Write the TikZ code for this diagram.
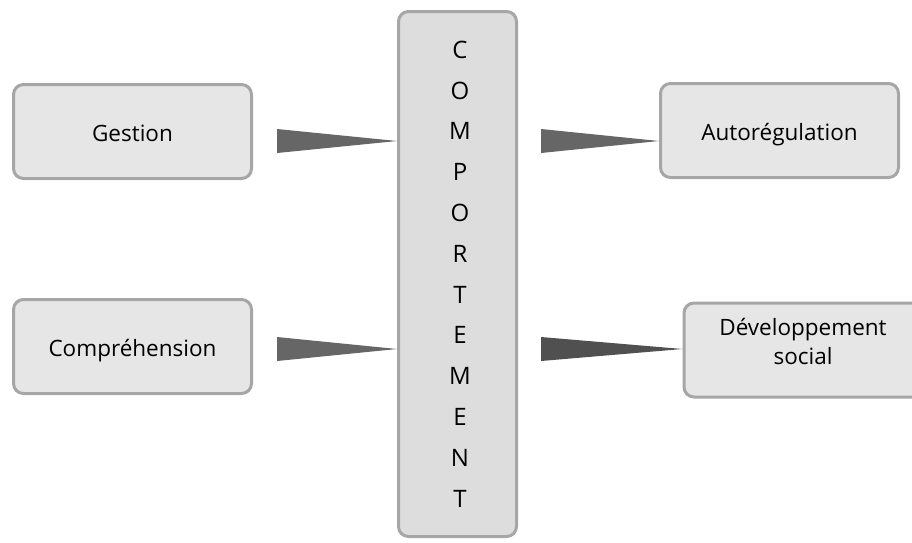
\documentclass[tikz,border=0pt]{standalone}
\usepackage{fontspec}
\setmainfont{Open Sans}
\usetikzlibrary{calc}
\definecolor{boxfill}{HTML}{E6E6E6}
\definecolor{midfill}{HTML}{DDDDDD}
\definecolor{boxline}{HTML}{A6A6A6}
\definecolor{wedgeA}{HTML}{666666}
\definecolor{wedgeB}{HTML}{505050}
\tikzset{
  sidebox/.style={draw=boxline, fill=boxfill, line width=3pt, rounded corners=10pt,
    minimum width=238pt, minimum height=94pt, align=center, inner sep=0pt,
    font=\fontsize{22.5}{29}\selectfont},
  midbox/.style={draw=boxline, fill=midfill, line width=3pt, rounded corners=10pt,
    minimum width=118pt, minimum height=525pt, align=center, inner sep=0pt,
    font=\fontsize{24}{40.8}\selectfont}
}
\begin{document}
\begin{tikzpicture}[x=1pt,y=-1pt]
\useasboundingbox (0,0) rectangle (912,542);
\node[sidebox] (gest) at (132.5,131.5) {\rule{0pt}{20pt}Gestion};
\node[sidebox] (comp) at (132.5,346.5) {\rule{0pt}{26pt}Compréhension};
\node[sidebox] (auto) at (779.5,130.5) {\rule{0pt}{26pt}Autorégulation};
\node[sidebox] (dev) at (803,350) {Développement\\social\rule[-18pt]{0pt}{0pt}};
\node[midbox] (mid) at (457.5,274) {\hspace*{5pt}C\\\hspace*{5pt}O\\\hspace*{5pt}M\\\hspace*{5pt}P\\\hspace*{5pt}O\\\hspace*{5pt}R\\\hspace*{5pt}T\\\hspace*{5pt}E\\\hspace*{5pt}M\\\hspace*{5pt}E\\\hspace*{5pt}N\\\hspace*{5pt}T};
\coordinate (b1) at (277,141);
\coordinate (b2) at (277,349);
\coordinate (b3) at (541,141);
\coordinate (b4) at (541,349);
\fill[wedgeA] ($(b1)+(0,-12)$) -- ($(b1)+(0,12)$) -- (mid.west |- b1) -- cycle;
\fill[wedgeA] ($(b2)+(0,-12)$) -- ($(b2)+(0,12)$) -- (mid.west |- b2) -- cycle;
\fill[wedgeA] ($(b3)+(0,-12)$) -- ($(b3)+(0,12)$) -- (auto.west |- b3) -- cycle;
\fill[wedgeB] ($(b4)+(0,-12)$) -- ($(b4)+(0,12)$) -- (dev.west |- b4) -- cycle;
\end{tikzpicture}
\end{document}
